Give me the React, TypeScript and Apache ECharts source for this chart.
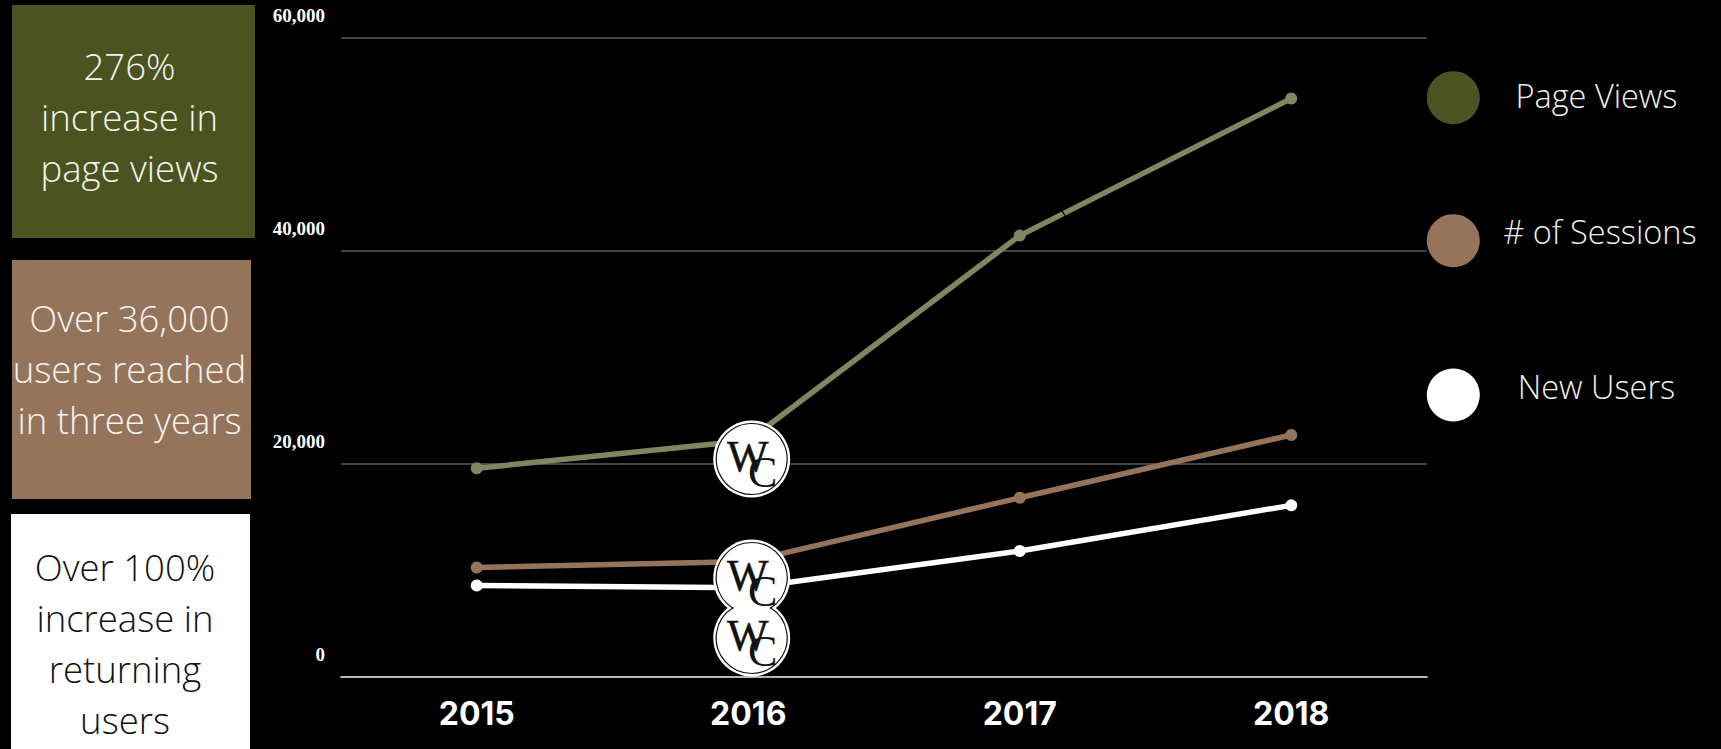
import React, { useEffect, useRef } from "react";
import * as echarts from "echarts";

const years = ["2015", "2016", "2017", "2018"];
const pageViews = [19550, 22150, 41400, 54270];
const sessions = [10240, 10800, 16780, 22680];
const newUsers = [8540, 8330, 11790, 16070];
const yTicks = { min: 0, max: 60000, interval: 20000 };

const OLIVE = "#4b5320";
const OLIVE_LINE = "#80865f";
const BROWN = "#94755c";
const WHITE = "#ffffff";

const sideBoxes = [
  { lines: "276%\nincrease in\npage views", x: 12, y: 5, w: 243, h: 233, fill: OLIVE, ink: "#f4f4ec", cx: 129.5, cy: 116.7 },
  { lines: "Over 36,000\nusers reached\nin three years", x: 12, y: 260, w: 239, h: 239, fill: BROWN, ink: "#f6f2ee", cx: 129.5, cy: 369 },
  { lines: "Over 100%\nincrease in\nreturning\nusers", x: 11, y: 514, w: 239, h: 235, fill: WHITE, ink: "#111111", cx: 125, cy: 643 },
];

const legendItems = [
  { name: "Page Views", color: OLIVE, dotY: 97.7, textX: 1596.5, textY: 95.5 },
  { name: "# of Sessions", color: BROWN, dotY: 240.7, textX: 1600, textY: 231.5 },
  { name: "New Users", color: WHITE, dotY: 395, textX: 1596.5, textY: 386.5 },
];

const rad = (d: number) => (d * Math.PI) / 180;

function stamp(cy: number, from: number, to: number) {
  const cx = 751.7;
  return [
    { type: "circle", z: 100, shape: { cx, cy, r: 38.5 }, style: { fill: "#fff" } },
    {
      type: "arc",
      z: 102,
      shape: { cx, cy, r: 35.5, startAngle: rad(from), endAngle: rad(to), clockwise: true },
      style: { stroke: "#111", lineWidth: 1.2, fill: "none" },
    },
    {
      type: "text",
      z: 103,
      x: cx - 4,
      y: cy - 3,
      style: { text: "W", font: "44px 'Liberation Serif'", fill: "#111", stroke: "#111", lineWidth: 0.5, align: "center", verticalAlign: "middle" },
    },
    {
      type: "text",
      z: 103,
      x: cx + 11,
      y: cy + 13,
      style: { text: "C", font: "44px 'Liberation Serif'", fill: "#111", align: "center", verticalAlign: "middle" },
    },
  ];
}

function series(name: string, data: number[], color: string) {
  return {
    name,
    type: "line",
    data,
    symbol: "circle",
    symbolSize: 12,
    showSymbol: true,
    lineStyle: { color, width: 5.5 },
    itemStyle: { color },
    silent: true,
  };
}

export default function App() {
  const ref = useRef<HTMLDivElement>(null);
  useEffect(() => {
    if (!ref.current) return;
    const chart = echarts.init(ref.current, undefined, { renderer: "svg" });
    chart.setOption({
      animation: false,
      backgroundColor: "#000",
      grid: { left: 341, top: 37.5, width: 1086, height: 639 },
      xAxis: {
        type: "category",
        data: years,
        axisTick: { show: false },
        axisLine: { show: true, lineStyle: { color: "#b4b4b4", width: 2 } },
        axisLabel: { color: "#fff", fontFamily: "Inter", fontWeight: 700, fontSize: 32, margin: 21 },
      },
      yAxis: {
        type: "value",
        ...yTicks,
        axisLine: { show: false },
        axisTick: { show: false },
        axisLabel: {
          color: "#fff",
          fontFamily: "Liberation Serif",
          fontWeight: 700,
          fontSize: 19,
          margin: 16,
          verticalAlign: "bottom",
          padding: [0, 0, 13, 0],
          formatter: (v: number) => v.toLocaleString("en-US"),
        },
        splitLine: { show: true, lineStyle: { color: "#5a5a5a", width: 1.5 } },
      },
      series: [series("Page Views", pageViews, OLIVE_LINE), series("# of Sessions", sessions, BROWN), series("New Users", newUsers, WHITE)],
      graphic: [
        ...sideBoxes.flatMap((b) => [
          { type: "rect", shape: { x: b.x, y: b.y, width: b.w, height: b.h }, style: { fill: b.fill } },
          {
            type: "text",
            x: b.cx,
            y: b.cy,
            z: 5,
            style: {
              text: b.lines,
              fill: b.ink,
              font: "300 36.5px 'Open Sans'",
              lineHeight: 51,
              align: "center",
              verticalAlign: "middle",
            },
          },
        ]),
        ...legendItems.flatMap((l) => [
          { type: "circle", shape: { cx: 1453.3, cy: l.dotY, r: 26.5 }, style: { fill: l.color } },
          {
            type: "text",
            x: l.textX,
            y: l.textY,
            style: { text: l.name, fill: "#f0f0e8", font: "300 32.5px 'Open Sans'", align: "center", verticalAlign: "middle" },
          },
        ]),
        { type: "line", z: 50, shape: { x1: 1060.8, y1: 209, x2: 1065, y2: 215.5 }, style: { stroke: "#000", lineWidth: 1.3 } },
        ...stamp(459, 0, 360),
        ...stamp(638, -59, 239),
        ...stamp(578, 121, 419),
      ],
    });
    return () => chart.dispose();
  }, []);
  return <div ref={ref} style={{ position: "fixed", left: 0, top: 0, width: 1721, height: 749, background: "#000" }} />;
}
